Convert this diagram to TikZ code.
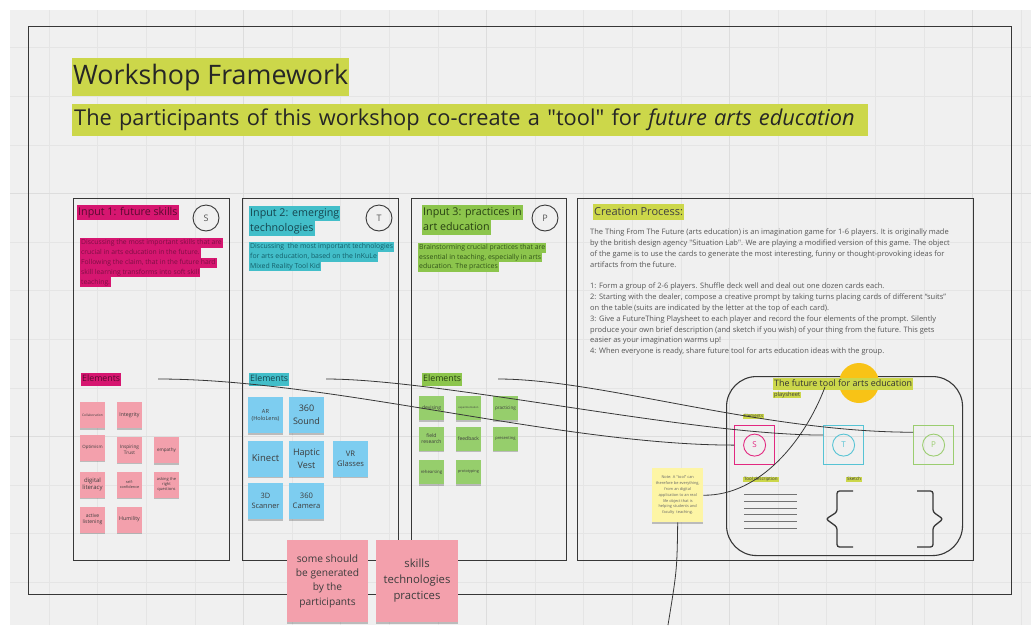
\documentclass[tikz,border=0pt]{standalone}
\usepackage{fontspec}
\setmainfont{Open Sans}[Ligatures=TeXOff]
\usetikzlibrary{calc,shadows}
\definecolor{bgc}{RGB}{240,240,240}
\definecolor{gridc}{RGB}{229,229,229}
\definecolor{gridm}{RGB}{221,221,221}
\definecolor{linec}{RGB}{55,55,55}
\definecolor{mag}{RGB}{214,22,112}
\definecolor{magtxt}{RGB}{90,10,48}
\definecolor{magtxtb}{RGB}{125,15,68}
\definecolor{cya}{RGB}{66,190,201}
\definecolor{cyatxt}{RGB}{22,70,80}
\definecolor{cyatxtb}{RGB}{20,95,105}
\definecolor{grn}{RGB}{140,197,76}
\definecolor{grntxt}{RGB}{40,65,18}
\definecolor{grntxtb}{RGB}{50,85,25}
\definecolor{limec}{RGB}{204,215,74}
\definecolor{pinkst}{RGB}{243,160,172}
\definecolor{bluest}{RGB}{125,205,240}
\definecolor{grnst}{RGB}{150,206,108}
\definecolor{notec}{RGB}{253,245,165}
\definecolor{sunc}{RGB}{248,195,22}
\definecolor{smag}{RGB}{226,40,128}
\definecolor{scya}{RGB}{86,195,212}
\definecolor{sgrn}{RGB}{155,205,112}
\definecolor{sttxt}{RGB}{60,60,60}
\definecolor{bodytxt}{RGB}{85,85,85}
\newcommand\fsz[2]{\fontsize{#1}{#2}\selectfont}
\newcommand\hlstrut{\rule[-0.24em]{0pt}{1em}}
\tikzset{
  gridl/.style={draw=gridc, line width=0.6pt},
  gridM/.style={draw=gridm, line width=0.9pt},
  boxline/.style={draw=linec, line width=1.1pt, inner sep=0pt, anchor=north west},
  hl/.style={inner xsep=1pt, inner ysep=0pt, anchor=north west, execute at begin node=\hlstrut},
  hcirc/.style={circle, draw=linec, line width=0.9pt, minimum size=26pt, inner sep=0pt, text=bodytxt, font=\fsz{9}{10}},
  stk/.style={rectangle, inner sep=0.5pt, align=center, text=sttxt,
     drop shadow={shadow xshift=0pt, shadow yshift=-1.6pt, opacity=0.22, fill=black}},
  pst/.style={stk, fill=pinkst, minimum width=25pt, minimum height=26pt},
  bst/.style={stk, fill=bluest, minimum width=35pt, minimum height=36pt},
  gst/.style={stk, fill=grnst, minimum width=25pt, minimum height=24pt},
  conn/.style={draw=linec, line width=0.8pt},
  tline/.style={draw=black!55, line width=0.8pt},
  brace/.style={draw=linec, line width=1.3pt, rounded corners=2.5pt},
  sbox/.style={line width=1.2pt, minimum width=40pt, minimum height=39pt, inner sep=0pt, anchor=north west},
  scirc/.style={circle, line width=0.9pt, minimum size=22pt, inner sep=0pt, font=\fsz{8}{9}},
  tiny/.style={hl, fill=limec, text=sttxt, minimum height=5pt}
}
\begin{document}
\begin{tikzpicture}[x=1pt,y=-1pt]
\useasboundingbox (0,0) rectangle (1031,625);
% background and grid
\fill[white] (0,0) rectangle (1031,625);
\fill[bgc] (10,10) rectangle (1031,625);
\foreach \k in {0,...,20} \draw[gridl] ({49+48.6*\k},10) -- ({49+48.6*\k},625);
\foreach \k in {0,...,11} \draw[gridl] (10,{47.7+48.6*\k}) -- (1031,{47.7+48.6*\k});
\foreach \k in {4,9,14,19} \draw[gridM] ({49+48.6*\k},10) -- ({49+48.6*\k},625);
\foreach \k in {3,8} \draw[gridM] (10,{47.7+48.6*\k}) -- (1031,{47.7+48.6*\k});

% outer frame and columns
\node[boxline, minimum width=983pt, minimum height=568pt] (outer) at (28,26) {};
\node[boxline, minimum width=156pt, minimum height=362pt] (c1) at (73,198) {};
\node[boxline, minimum width=156pt, minimum height=362pt] (c2) at (242,198) {};
\node[boxline, minimum width=155pt, minimum height=362pt] (c3) at (411,198) {};
\node[boxline, minimum width=396pt, minimum height=362pt] (c4) at (577,198) {};

% titles
\node[hl, fill=limec, minimum height=38pt, font=\fsz{26.8}{30}, text=black!85] (title) at (72,58) {Workshop Framework};
\node[hl, fill=limec, minimum height=32pt, text width=792pt, inner xsep=2pt, align=left, font=\fsz{21.8}{24}, text=black!85] (sub) at (72,104)
  {\hlstrut The participants of this workshop co-create a "tool" for \textit{future arts education}};

% column 1
\node[hl, fill=mag, text=magtxt, minimum height=15pt, font=\fsz{10.7}{12}] (in1) at (77,205) {Input 1: future skills};
\node[hcirc] (cS) at (206,218) {S};
\foreach \t [count=\i] in {{Discussing the most important skills that are},{crucial in arts education in the future.},{Following the claim, that in the future hard},{skill learning transforms into soft skill},{teaching.}}
  \node[hl, fill=mag, text=magtxtb, minimum height=9.8pt, font=\fsz{6.8}{8}] (d1-\i) at (80,{238+9.8*(\i-1)}) {\t};
\node[hl, fill=mag, text=magtxt, minimum height=13pt, font=\fsz{8.8}{10}] (el1) at (81,373) {Elements};

\node[pst, font=\fsz{3.3}{4}] (p1) at (92.5,415) {Collaboration};
\node[pst, font=\fsz{5.2}{6}] (p2) at (129.5,415) {Integrity};
\node[pst, font=\fsz{4.4}{5}] (p3) at (92.5,447.5) {Optimism};
\node[pst, font=\fsz{4.7}{6}] (p4) at (129.5,449.5) {Inspiring\\Trust};
\node[pst, font=\fsz{4.6}{5}] (p5) at (166.5,450) {empathy};
\node[pst, font=\fsz{6}{7.5}] (p6) at (92.5,484.5) {digital\\literacy};
\node[pst, font=\fsz{3.8}{5}] (p7) at (129.5,484.5) {self-\\confidence};
\node[pst, font=\fsz{4}{5}] (p8) at (166.5,484.5) {asking the\\right\\questions};
\node[pst, font=\fsz{5}{6.5}] (p9) at (92.5,519.5) {active\\listening};
\node[pst, font=\fsz{5.3}{6}] (p10) at (129.5,519.5) {Humility};

% column 2
\node[hl, fill=cya, text=cyatxt, minimum height=15pt, font=\fsz{10.7}{12}] (in2a) at (249,206) {Input 2: emerging};
\node[hl, fill=cya, text=cyatxt, minimum height=15pt, font=\fsz{10.7}{12}] (in2b) at (249,221) {technologies};
\node[hcirc] (cT) at (379,218) {T};
\foreach \t [count=\i] in {{Discussing\ \ the most important technologies},{for arts education, based on the InKuLe},{Mixed Reality Tool Kid}}
  \node[hl, fill=cya, text=cyatxtb, minimum height=9.7pt, font=\fsz{6.9}{8}] (d2-\i) at (249,{242+9.7*(\i-1)}) {\t};
\node[hl, fill=cya, text=cyatxt, minimum height=13pt, font=\fsz{8.8}{10}] (el2) at (249,373) {Elements};

\node[bst, font=\fsz{5.6}{7}] (b1) at (265.5,415) {AR\\(HoloLens)};
\node[bst, font=\fsz{9}{12.5}] (b2) at (306.5,415) {360\\Sound};
\node[bst, font=\fsz{9.5}{12}] (b3) at (265.5,458.5) {Kinect};
\node[bst, font=\fsz{9}{12.5}] (b4) at (306.5,458.5) {Haptic\\Vest};
\node[bst, font=\fsz{7.6}{10}] (b5) at (350.5,458.5) {VR\\Glasses};
\node[bst, font=\fsz{7.4}{10}] (b6) at (265.5,501) {3D\\Scanner};
\node[bst, font=\fsz{7.6}{10}] (b7) at (306.5,501) {360\\Camera};

% column 3
\node[hl, fill=grn, text=grntxt, minimum height=15pt, font=\fsz{10.7}{12}] (in3a) at (422,205) {Input 3: practices in};
\node[hl, fill=grn, text=grntxt, minimum height=15pt, font=\fsz{10.7}{12}] (in3b) at (422,220) {art education};
\node[hcirc] (cP) at (545,218) {P};
\foreach \t [count=\i] in {{Brainstorming crucial practices that are},{essential in teaching, especially in arts},{education. The practices}}
  \node[hl, fill=grn, text=grntxtb, minimum height=9.5pt, font=\fsz{6.9}{8}] (d3-\i) at (418,{243+9.5*(\i-1)}) {\t};
\node[hl, fill=grn, text=grntxt, minimum height=13pt, font=\fsz{8.8}{10}] (el3) at (422,373) {Elements};

\node[gst, font=\fsz{5}{6}] (g1) at (431.5,408) {devising};
\node[gst, font=\fsz{2.6}{3}] (g2) at (468.5,408) {experimentation};
\node[gst, font=\fsz{4.6}{5}] (g3) at (505.5,408) {practicing};
\node[gst, font=\fsz{5}{6.5}] (g4) at (431.5,438.5) {field\\research};
\node[gst, font=\fsz{5}{6}] (g5) at (468.5,438.5) {feedback};
\node[gst, font=\fsz{4.1}{5}] (g6) at (505.5,438.5) {presenting};
\node[gst, font=\fsz{4.3}{5}] (g7) at (431.5,472) {rehearsing};
\node[gst, font=\fsz{3.8}{5}] (g8) at (468.5,472) {prototyping};

% column 4
\node[hl, fill=limec, text=black!75, minimum height=16pt, font=\fsz{11}{12}] (cp) at (593,204) {Creation Process:};
\node[anchor=north west, inner sep=0pt, align=left, text=bodytxt, font=\fsz{7.5}{10.8}] (body) at (590,229) {%
The Thing From The Future (arts education) is an imagination game for 1-6 players. It is originally made\\
by the british design agency "Situation Lab". We are playing a modified version of this game. The object\\
of the game is to use the cards to generate the most interesting, funny or thought-provoking ideas for\\
artifacts from the future.\\[10.8pt]
1: Form a group of 2-6 players. Shuffle deck well and deal out one dozen cards each.\\
2: Starting with the dealer, compose a creative prompt by taking turns placing cards of different “suits”\\
on the table (suits are indicated by the letter at the top of each card).\\
3: Give a FutureThing Playsheet to each player and record the four elements of the prompt. Silently\\
produce your own brief description (and sketch if you wish) of your thing from the future. This gets\\
easier as your imagination warms up!\\
4: When everyone is ready, share future tool for arts education ideas with the group.};

% playsheet
\node[draw=linec, line width=1.1pt, rounded corners=30pt, minimum width=236pt, minimum height=179pt, inner sep=0pt, anchor=north west] (ps) at (726,376) {};
\node[circle, fill=sunc, minimum size=40pt, inner sep=0pt] (sun) at (859,383) {};
\node[hl, fill=limec, text=black!80, minimum height=12pt, font=\fsz{8.9}{10}] (ftool) at (773,378) {The future tool for arts education};
\node[tiny, minimum height=6pt, font=\fsz{5.8}{6}] (plays) at (773,392) {playsheet};
\node[tiny, font=\fsz{4.4}{5}] (lel) at (743,414) {Elements};
\node[tiny, font=\fsz{4.5}{5}] (ltd) at (743,477) {Tool description};
\node[tiny, font=\fsz{4.5}{5}] (lsk) at (846,477) {Sketch};

\node[sbox, draw=smag] (bS) at (734,425) {};
\node[scirc, draw=smag, text=smag] (bSc) at (bS.center) {S};
\node[sbox, draw=scya] (bT) at (823,425) {};
\node[scirc, draw=scya, text=scya] (bTc) at (bT.center) {T};
\node[sbox, draw=sgrn] (bP) at (913,425) {};
\node[scirc, draw=sgrn, text=sgrn] (bPc) at (bP.center) {P};

\foreach \yy in {494,501,508,514,521,528} \draw[tline] (744,\yy) -- (797,\yy);
\draw[brace] (853,491) -- (837,491) -- (837,512) -- (826,519) -- (837,527) -- (837,547) -- (853,547);
\draw[brace] (917,491) -- (933,491) -- (933,512) -- (943,519) -- (933,527) -- (933,547) -- (917,547);

% note
\node[stk, fill=notec, minimum width=51pt, minimum height=54pt, anchor=north west, text=black!60, font=\fsz{3.9}{5.8}] (note) at (652,468)
  {Note: A "tool" can\\therefore be everything,\\from an digital\\application to an real\\life object that is\\helping students and\\faculty\ \ teaching.};

% connectors
\coordinate (e1s) at (158,379);
\coordinate (e2s) at (326,379);
\coordinate (e3s) at (498,379);
\draw[conn] (e1s) .. controls (330,379) and (560,445) .. (bS.west);
\draw[conn] (e2s) .. controls (440,379) and (690,435) .. ($(bT.north west)!0.25!(bT.south west)$);
\draw[conn] (e3s) .. controls (600,379) and (760,432) .. ($(bP.north west)!0.18!(bP.south west)$);
\coordinate (ftp) at (825,387);
\draw[conn] (note.east) .. controls (760,496) and (805,440) .. (ftp);
\coordinate (noteend) at (668,625);
\draw[conn] (note.south) .. controls (677,570) .. (noteend);

% bottom stickies
\node[stk, fill=pinkst, minimum width=81pt, minimum height=82pt, font=\fsz{10.2}{14.3}] (n1) at (327.5,581) {some should\\be generated\\by the\\participants};
\node[stk, fill=pinkst, minimum width=82pt, minimum height=82pt, font=\fsz{11.3}{16}] (n2) at (417,581) {skills\\technologies\\practices};
\end{tikzpicture}
\end{document}
